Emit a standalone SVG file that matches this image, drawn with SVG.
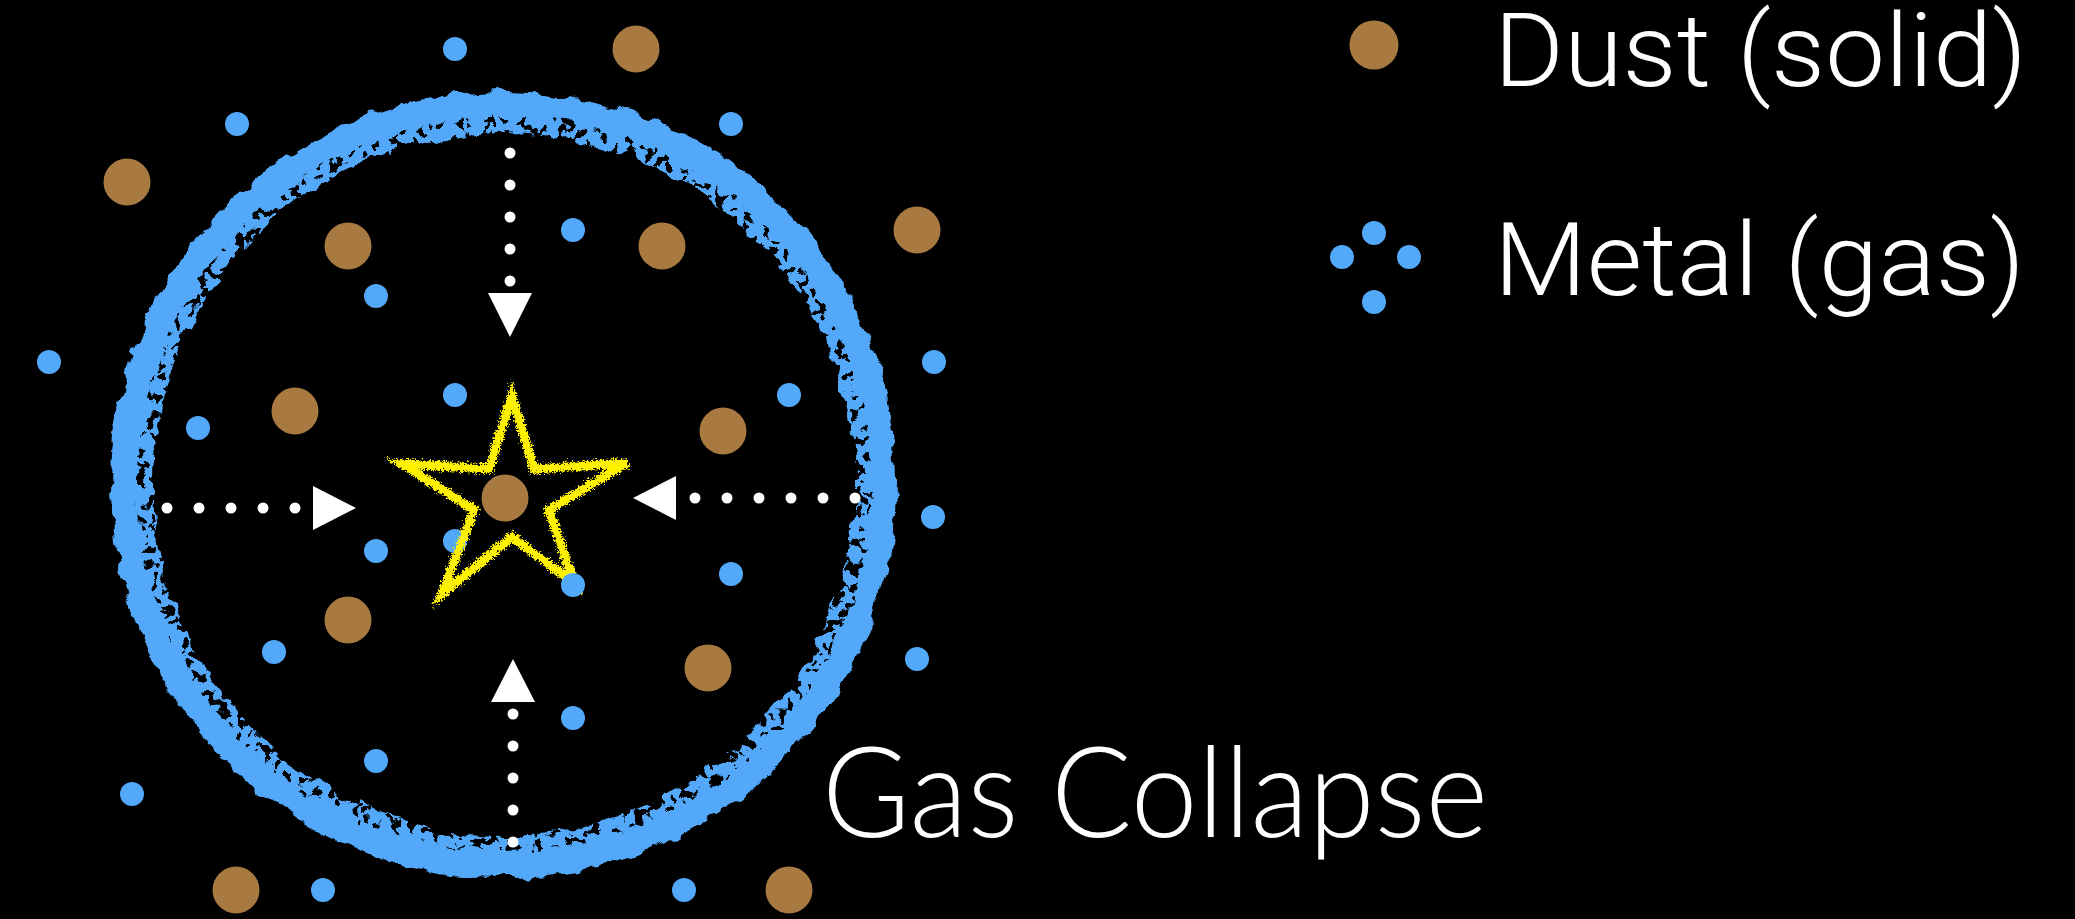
<svg xmlns="http://www.w3.org/2000/svg" width="2075" height="919" viewBox="0 0 2075 919">
  <style>
    .gas { fill: #52A8F9; }
    .dust { fill: #A87A42; }
    .dot { fill: #FFFFFF; }
    .head { fill: #FFFFFF; }
    .legend { fill: #FFFFFF; font-family: Roboto, "Liberation Sans", sans-serif; font-weight: 300; font-size: 102px; }
    .title { fill: #FFFFFF; font-family: Lato, "Open Sans", "Liberation Sans", sans-serif; font-weight: 300; font-size: 126px; }
  </style>
  <defs>
    <filter id="ringRough" filterUnits="userSpaceOnUse" x="60" y="40" width="890" height="890">
      <feTurbulence type="fractalNoise" baseFrequency="0.045" numOctaves="3" seed="4" result="n"/>
      <feDisplacementMap in="SourceGraphic" in2="n" scale="16" xChannelSelector="R" yChannelSelector="G"/>
    </filter>
    <filter id="ringHoles" filterUnits="userSpaceOnUse" x="60" y="40" width="890" height="890">
      <feTurbulence type="fractalNoise" baseFrequency="0.11" numOctaves="2" seed="9" result="n2"/>
      <feColorMatrix in="n2" type="matrix" values="0 0 0 0 0  0 0 0 0 0  0 0 0 0 0  -30 0 0 0 17.5" result="mask"/>
      <feComposite in="SourceGraphic" in2="mask" operator="in"/>
    </filter>
    <filter id="starRough" x="-10%" y="-10%" width="120%" height="120%">
      <feTurbulence type="turbulence" baseFrequency="0.4" numOctaves="2" seed="2" result="n"/>
      <feDisplacementMap in="SourceGraphic" in2="n" scale="8" xChannelSelector="R" yChannelSelector="G"/>
    </filter>
  </defs>
  <rect x="0" y="0" width="2075" height="919" fill="#000000"/>

  <g id="cloud-ring" filter="url(#ringRough)">
    <circle cx="504" cy="484" r="380" fill="none" stroke="#52A8F9" stroke-width="26"/>
    <circle cx="504" cy="484" r="360" fill="none" stroke="#52A8F9" stroke-width="18" filter="url(#ringHoles)"/>
  </g>

  <g id="dust-particles">
    <circle class="dust" cx="636" cy="49" r="23.5"/>
    <circle class="dust" cx="127" cy="182" r="23.5"/>
    <circle class="dust" cx="348" cy="246" r="23.5"/>
    <circle class="dust" cx="662" cy="246" r="23.5"/>
    <circle class="dust" cx="917" cy="230" r="23.5"/>
    <circle class="dust" cx="295" cy="411" r="23.5"/>
    <circle class="dust" cx="723" cy="431" r="23.5"/>
    <circle class="dust" cx="348" cy="620" r="23.5"/>
    <circle class="dust" cx="708" cy="668" r="23.5"/>
    <circle class="dust" cx="236" cy="890" r="23.5"/>
    <circle class="dust" cx="789" cy="890" r="23.5"/>
  </g>

  <g id="gas-particles">
    <circle class="gas" cx="455" cy="49" r="12"/>
    <circle class="gas" cx="237" cy="124" r="12"/>
    <circle class="gas" cx="731" cy="124" r="12"/>
    <circle class="gas" cx="573" cy="230" r="12"/>
    <circle class="gas" cx="376" cy="296" r="12"/>
    <circle class="gas" cx="49" cy="362" r="12"/>
    <circle class="gas" cx="934" cy="362" r="12"/>
    <circle class="gas" cx="455" cy="395" r="12"/>
    <circle class="gas" cx="789" cy="395" r="12"/>
    <circle class="gas" cx="198" cy="428" r="12"/>
    <circle class="gas" cx="933" cy="517" r="12"/>
    <circle class="gas" cx="455" cy="541" r="12"/>
    <circle class="gas" cx="376" cy="551" r="12"/>
    <circle class="gas" cx="731" cy="574" r="12"/>
    <circle class="gas" cx="274" cy="652" r="12"/>
    <circle class="gas" cx="917" cy="659" r="12"/>
    <circle class="gas" cx="573" cy="718" r="12"/>
    <circle class="gas" cx="376" cy="761" r="12"/>
    <circle class="gas" cx="132" cy="794" r="12"/>
    <circle class="gas" cx="323" cy="890" r="12"/>
    <circle class="gas" cx="684" cy="890" r="12"/>
  </g>

  <g id="star">
    <polygon points="510,394 532,467 625,461 547,508 572,581 510,535 440,592 472,508 400,462 487,467" fill="none" stroke="#FFF200" stroke-width="9" stroke-linejoin="miter" filter="url(#starRough)"/>
    <circle class="dust" cx="505" cy="498" r="23.5"/>
    <circle class="gas" cx="573" cy="585" r="12"/>
  </g>

  <g id="connectors">
    <g id="arrow-down">
      <circle class="dot" cx="510" cy="153" r="5.5"/>
      <circle class="dot" cx="510" cy="185" r="5.5"/>
      <circle class="dot" cx="510" cy="217" r="5.5"/>
      <circle class="dot" cx="510" cy="249" r="5.5"/>
      <circle class="dot" cx="510" cy="281" r="5.5"/>
      <polygon class="head" points="488,293 532,293 510,337"/>
    </g>
    <g id="arrow-right">
      <circle class="dot" cx="167" cy="508" r="5.5"/>
      <circle class="dot" cx="199" cy="508" r="5.5"/>
      <circle class="dot" cx="231" cy="508" r="5.5"/>
      <circle class="dot" cx="263" cy="508" r="5.5"/>
      <circle class="dot" cx="295" cy="508" r="5.5"/>
      <polygon class="head" points="313,486 313,530 356,508"/>
    </g>
    <g id="arrow-left">
      <circle class="dot" cx="695" cy="498" r="5.5"/>
      <circle class="dot" cx="727" cy="498" r="5.5"/>
      <circle class="dot" cx="759" cy="498" r="5.5"/>
      <circle class="dot" cx="791" cy="498" r="5.5"/>
      <circle class="dot" cx="823" cy="498" r="5.5"/>
      <circle class="dot" cx="855" cy="498" r="5.5"/>
      <polygon class="head" points="676,476 676,520 633,498"/>
    </g>
    <g id="arrow-up">
      <circle class="dot" cx="513" cy="714" r="5.5"/>
      <circle class="dot" cx="513" cy="746" r="5.5"/>
      <circle class="dot" cx="513" cy="778" r="5.5"/>
      <circle class="dot" cx="513" cy="810" r="5.5"/>
      <circle class="dot" cx="513" cy="842" r="5.5"/>
      <polygon class="head" points="491,702 535,702 513,659"/>
    </g>
  </g>

  <g id="title">
    <text class="title" x="822" y="837" textLength="666" lengthAdjust="spacingAndGlyphs">Gas Collapse</text>
  </g>

  <g id="legend-dust">
    <circle class="dust" cx="1374" cy="45" r="24.5"/>
    <text class="legend" x="1494" y="86" textLength="533" lengthAdjust="spacingAndGlyphs">Dust (solid)</text>
  </g>
  <g id="legend-metal">
    <circle class="gas" cx="1374" cy="233" r="12"/>
    <circle class="gas" cx="1342" cy="257" r="12"/>
    <circle class="gas" cx="1409" cy="257" r="12"/>
    <circle class="gas" cx="1374" cy="302" r="12"/>
    <text class="legend" x="1494" y="295" textLength="531" lengthAdjust="spacingAndGlyphs">Metal (gas)</text>
  </g>
</svg>
